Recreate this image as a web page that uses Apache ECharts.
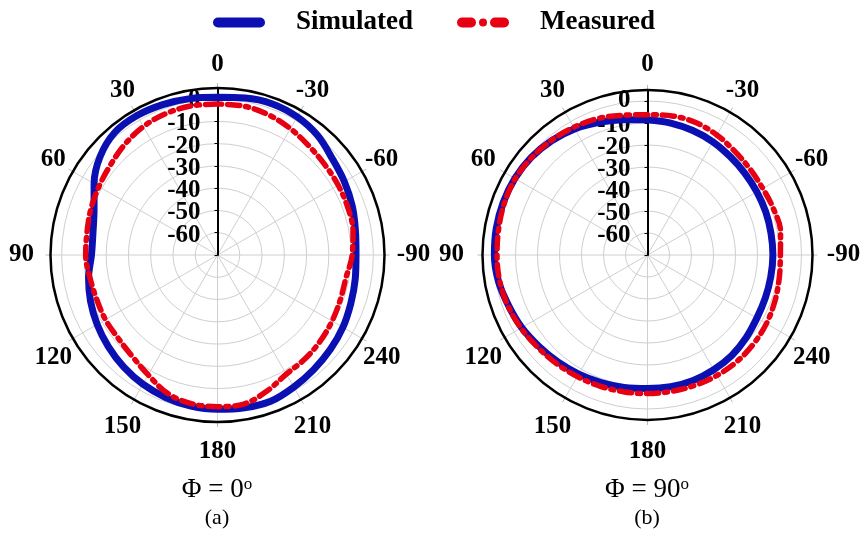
<!DOCTYPE html>
<html><head><meta charset="utf-8">
<script src="https://cdn.jsdelivr.net/npm/echarts@6/dist/echarts.min.js"></script>
<style>html,body{margin:0;padding:0;background:#fff}#c{width:862px;height:553px}</style>
</head><body><div id="c"></div>
<script>
// angles (deg, counter-clockwise from top)
const angles = [0,10,20,30,40,50,60,70,80,90,100,110,120,130,140,150,160,170,180,190,200,210,220,230,240,250,260,270,280,290,300,310,320,330,340,350,360];
// (a) Phi = 0 deg
const simA  = [0.8,1.3,1.9,2.3,1.8,-1.2,-6.0,-11.0,-13.2,-13.4,-11.2,-9.3,-7.6,-6.0,-4.4,-3.0,-1.9,-1.1,-0.7,-0.3,-0.1,-1.5,-2.8,-3.9,-5.0,-6.3,-7.2,-7.8,-7.1,-5.6,-4.2,-2.7,0.0,1.6,2.2,1.6,0.8];
const measA = [-2.2,-2.0,-2.4,-3.4,-5.2,-7.2,-8.5,-9.5,-10.5,-10.8,-11.8,-12.2,-11.9,-11.8,-10.5,-7.8,-4.0,-2.2,-1.9,-2.0,-5.0,-8.2,-9.0,-9.8,-10.6,-11.3,-11.4,-9.5,-8.2,-7.7,-7.4,-7.0,-6.1,-4.5,-3.0,-2.1,-2.2];
// (b) Phi = 90 deg
const simB  = [-8.5,-7.6,-5.8,-3.8,-2.2,-1.0,-0.4,-0.2,-0.2,-0.4,-1.2,-2.8,-4.0,-5.5,-6.6,-7.5,-8.3,-8.9,-9.3,-9.2,-9.3,-9.8,-10.4,-11.5,-12.6,-13.0,-13.1,-13.0,-13.0,-12.8,-12.6,-12.2,-11.6,-10.6,-9.8,-9.1,-8.5];
const measB = [-6.2,-5.5,-4.0,-3.0,-2.0,-1.2,-0.6,-0.8,-1.3,-1.6,-1.8,-2.5,-3.6,-4.8,-5.6,-6.2,-6.6,-6.9,-7.0,-7.1,-7.0,-6.8,-6.8,-7.1,-7.6,-8.4,-9.2,-9.6,-8.6,-9.0,-9.5,-9.2,-8.4,-7.0,-5.9,-5.8,-6.2];
// tick labels
const angleTickValues = [0,30,60,90,120,150,180,210,240,270,300,330];
const angleTickLabels = ['0','30','60','90','120','150','180','210','240','-90','-60','-30'];
const radiusTickValues = [-60,-50,-40,-30,-20,-10,0];
const seriesNames = ['Simulated','Measured'];
const captions = [['Φ = 0','(a)'],['Φ = 90','(b)']];

const FONT = '"Liberation Serif","Times New Roman",serif';
const BLUE = '#0b10b2';
const RED = '#e60012';
const radii = [167, 165];
const LBL = {fontSize:25, fontWeight:'bold', fontFamily:FONT, color:'#000'};

function angleAxis(i){
  return {
    polarIndex:i, type:'value', min:0, max:360, interval:30, startAngle:90, clockwise:false,
    axisLine:{show:true, lineStyle:{color:'#000', width:2.5}},
    axisTick:{show:true, length:5, lineStyle:{color:'#bbb', width:1}},
    splitLine:{show:true, lineStyle:{color:'#cfcfcf', width:1}},
    axisLabel:{
      margin: 189 - radii[i], color:'#000',
      formatter:function(v){
        const k = angleTickValues.indexOf(v);
        if (k < 0) return '';
        const t = angleTickLabels[k];
        if (v === 90 || v === 270) return '{s|'+t+'}';
        if (v > 90 && v < 270) return '{e| }\n{c|'+t+'}';
        return '{c|'+t+'}';
      },
      rich:{
        c:Object.assign({width:1, height:2, lineHeight:2, align:'center', verticalAlign:'middle'}, LBL),
        s:Object.assign({width:14, height:2, lineHeight:2, align:'center', verticalAlign:'middle'}, LBL),
        e:{fontSize:2, lineHeight:7, height:7}
      }
    }
  };
}
function radiusAxis(i){
  return {
    polarIndex:i, type:'value', min:-70, max:5, interval:10,
    axisLine:{show:true, lineStyle:{color:'#000', width:2}},
    axisTick:{show:true, length:3, lineStyle:{color:'#000', width:1}},
    splitLine:{show:true, lineStyle:{color:'#cfcfcf', width:1}},
    axisLabel:{
      margin:17, color:'#000',
      formatter:function(v){
        if (radiusTickValues.indexOf(v) < 0) return '';
        if (v === 0) return '{r|0}';
        return '{e| }\n{r|'+v+'}';
      },
      rich:{
        r:Object.assign({lineHeight:25}, LBL),
        e:{fontSize:2, lineHeight:5, height:5}
      }
    }
  };
}
function mk(vals){ return angles.map((a,k)=>[vals[k], a]); }
function simSeries(i, vals){
  return {name:seriesNames[0], type:'line', coordinateSystem:'polar', polarIndex:i,
    data:mk(vals), smooth:0.35, showSymbol:false, symbol:'none', z:3,
    color:BLUE, lineStyle:{color:BLUE, width:7}};
}
function measSeries(i, vals){
  return {name:seriesNames[1], type:'line', coordinateSystem:'polar', polarIndex:i,
    data:mk(vals), smooth:0.35, showSymbol:false, symbol:'none', z:4,
    color:RED, lineStyle:{color:RED, width:5.5, type:[12,6,3,6], cap:'round'}};
}
function caption(x, pair){
  return [
    {type:'text', x:x, y:490, style:{text:'{a|'+pair[0]+'}{b|o}', align:'center', verticalAlign:'middle',
      rich:{a:{font:'27px '+FONT, fill:'#000'}, b:{font:'17px '+FONT, fill:'#000', verticalAlign:'top'}}}},
    {type:'text', x:x, y:518, style:{text:pair[1], align:'center', verticalAlign:'middle',
      font:'22px '+FONT, fill:'#000'}}
  ];
}

const chart = echarts.init(document.getElementById('c'), null, {renderer:'canvas'});
chart.setOption({
  animation:false,
  backgroundColor:'#fff',
  legend:{
    left:208, top:4, itemWidth:52, itemHeight:10, itemGap:44,
    textStyle:{fontSize:27, fontWeight:'bold', fontFamily:FONT, color:'#000', padding:[0,0,0,26]},
    itemStyle:{borderWidth:0},
    data:[
      {name:seriesNames[0], icon:'path://M5,0h42a5,5 0 0 1 0,10h-42a5,5 0 0 1 0,-10z'},
      {name:seriesNames[1], icon:'path://M5,0h9a5,5 0 0 1 0,10h-9a5,5 0 0 1 0,-10z M26,1a4,4 0 1 1 0,8a4,4 0 1 1 0,-8z M38,0h9a5,5 0 0 1 0,10h-9a5,5 0 0 1 0,-10z'}
    ]
  },
  polar:[
    {center:[217.5,255], radius:radii[0]},
    {center:[647.5,255], radius:radii[1]}
  ],
  angleAxis:[angleAxis(0), angleAxis(1)],
  radiusAxis:[radiusAxis(0), radiusAxis(1)],
  series:[simSeries(0, simA), measSeries(0, measA), simSeries(1, simB), measSeries(1, measB)],
  graphic:[].concat(caption(217, captions[0]), caption(647, captions[1]))
});
</script></body></html>
